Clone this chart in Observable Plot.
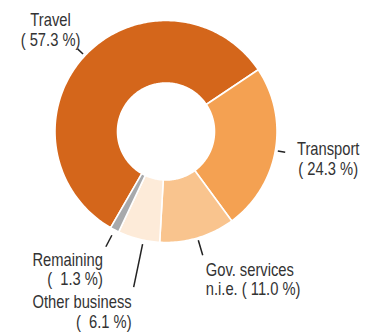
<!DOCTYPE html>
<html><head><meta charset="utf-8">
<script src="https://cdn.jsdelivr.net/npm/d3@7"></script>
<script src="https://cdn.jsdelivr.net/npm/@observablehq/plot@0.6"></script>
<style>
html,body{margin:0;padding:0;background:#fff;}
svg text{white-space:pre;}
</style></head><body><div id="chart"></div>
<script>
// ---- data ----
const categories = ["Travel", "Transport", "Gov. services n.i.e.", "Other business", "Remaining"];
const shares = [57.3, 24.3, 11.0, 6.1, 1.3];
const labelTexts = ["Travel\n( 57.3 %)", "Transport\n( 24.3 %)", "Gov. services\nn.i.e. ( 11.0 %)", "Other business\n(  6.1 %)", "Remaining\n(  1.3 %)"];
const colors = ["#d4661b", "#f4a152", "#f9c48e", "#fdebd9", "#a7a9ac"];

// ---- layout / style ----
const W = 368, H = 333, CX = 165.5, CY = 131, R_OUT = 111, R_IN = 48.5, START = 209.9;
const tickStart = [113.5, 113.5, 113.5, 115, 117];
const tickEnd = [121, 121, 129, 159, 130];
const tickNudge = [0, 0, 0, -2.5, 0];
const labelAnchor = ["middle", "middle", "start", "end", "end"];
const labelOffset = [[-27, -36.6], [43, -11.4], [3, 6.3], [-2, 7.2], [-3, 4.8]];
const FONT = "'Liberation Sans', Arial, sans-serif";
const NARROW = 0.82;

const total = d3.sum(shares);
const pt = (deg, r) => { const t = deg * Math.PI / 180; return [r * Math.sin(t), -r * Math.cos(t)]; };
let cum = 0;
const slices = categories.map((c, i) => {
  const a0 = START + cum / total * 360; cum += shares[i];
  const a1 = START + cum / total * 360;
  return {name: c, a0, a1, mid: (a0 + a1) / 2, i};
});
const poly = [];
slices.forEach(s => {
  const n = Math.max(2, Math.ceil(s.a1 - s.a0));
  const pts = [];
  for (let k = 0; k <= n; k++) pts.push(pt(s.a0 + (s.a1 - s.a0) * k / n, R_OUT));
  for (let k = n; k >= 0; k--) pts.push(pt(s.a0 + (s.a1 - s.a0) * k / n, R_IN));
  pts.push(pts[0]);
  pts.forEach(([x, y]) => poly.push({name: s.name, x, y}));
});
const ticks = slices.map(s => {
  const a = s.mid + tickNudge[s.i];
  const [x1, y1] = pt(a, tickStart[s.i]);
  const [x2, y2] = pt(a, tickEnd[s.i]);
  return {x1, y1, x2, y2, i: s.i};
});
const textMarks = ticks.map(t => Plot.text([{
  x: t.x2 + labelOffset[t.i][0], y: t.y2 + labelOffset[t.i][1], text: labelTexts[t.i]
}], {
  x: "x", y: "y", text: "text", textAnchor: labelAnchor[t.i], lineAnchor: "top",
  lineHeight: 1.1, fontSize: 18, fill: "#333", fontFamily: FONT
}));

const chart = Plot.plot({
  width: W, height: H, margin: 0,
  x: {domain: [-CX, W - CX], axis: null},
  y: {domain: [-CY, H - CY], reverse: true, axis: null},
  color: {domain: categories, range: colors},
  style: {background: "white", fontFamily: FONT},
  marks: [
    Plot.line(poly, {x: "x", y: "y", z: "name", fill: "name", stroke: "white", strokeWidth: 1.6, strokeLinejoin: "round", curve: "linear"}),
    Plot.link(ticks, {x1: "x1", y1: "y1", x2: "x2", y2: "y2", stroke: "#222", strokeWidth: 1.5}),
    ...textMarks
  ]
});
// condensed face: narrow the text horizontally around its own anchor
chart.querySelectorAll("text").forEach(t => {
  const tr = t.getAttribute("transform") || "";
  t.setAttribute("transform", tr + ` scale(${NARROW},1)`);
});
document.getElementById("chart").append(chart);
</script></body></html>
